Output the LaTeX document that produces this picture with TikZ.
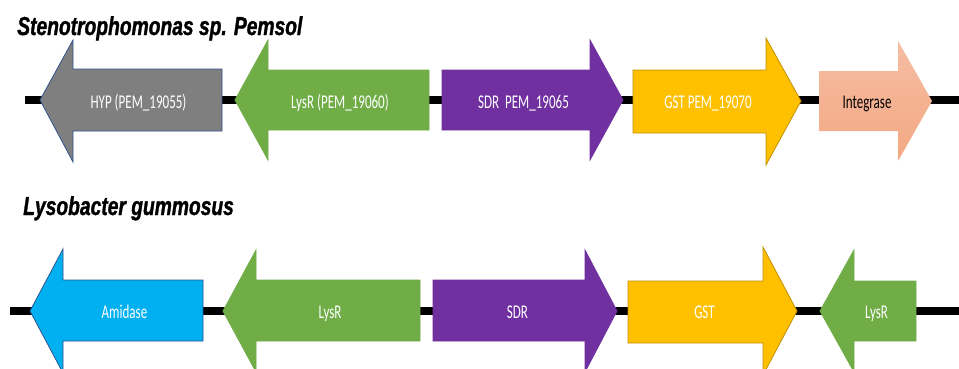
\documentclass[tikz,border=0pt]{standalone}
\usepackage{fontspec}
\newfontfamily\titelfont[FakeStretch=0.74,FakeBold=1.2]{Liberation Sans}
\newfontfamily\genfont[FakeStretch=0.67]{Carlito}

\definecolor{hypgrau}{HTML}{7F7F7F}
\definecolor{randblau}{HTML}{2F528F}
\definecolor{lysgruen}{HTML}{70AD47}
\definecolor{sdrlila}{HTML}{7030A0}
\definecolor{gstgold}{HTML}{FFC000}
\definecolor{gstrand}{HTML}{BF9000}
\definecolor{amiblau}{HTML}{00B0F0}
\definecolor{intoben}{HTML}{F5BDA2}
\definecolor{intunten}{HTML}{F4A884}

\begin{document}
\begin{tikzpicture}[x=0.75pt,y=-0.75pt,
    strang/.style={line width=6pt,black},
    gen/.style={line width=0.6pt,line join=miter},
    titel/.style={anchor=base west,inner sep=0pt,
        font=\titelfont\bfseries\itshape\fontsize{19.5}{23}\selectfont},
    genname/.style={anchor=base,inner sep=0pt,white,
        font=\genfont\fontsize{14.6}{17}\selectfont}]
        \useasboundingbox (0,0) rectangle (959,368);

        % =========================================================
        % SKALIERUNG: 1 Einheit = 1 Pixel des Bildes (959 x 368)
        % =========================================================

        % ---------------------------------------------------------
        % Erste Reihe: Stenotrophomonas sp. Pemsol
        % Strang bei y = 100
        % ---------------------------------------------------------

        \node[titel] (titelA) at (17,35) {Stenotrophomonas sp. Pemsol};

        % DNA-Strang
        \draw[strang] (25,100) -- (959,100);

        % HYP (nach links)
        \draw[gen,fill=hypgrau,draw=randblau]
        (40,100) -- (73,40) -- (73,69) -- (222,69) -- (222,131)
        -- (73,131) -- (73,162) -- cycle;
        \node[genname] (hyp) at (138.5,108.5) {HYP (PEM\_19055)};

        % LysR (nach links)
        \draw[gen,fill=lysgruen,draw=lysgruen]
        (235,100) -- (268,40) -- (268,70) -- (429,70) -- (429,130)
        -- (268,130) -- (268,160) -- cycle;
        \node[genname] (lysrA) at (340,108.5) {LysR (PEM\_19060)};

        % SDR (nach rechts)
        \draw[gen,fill=sdrlila,draw=sdrlila]
        (442,70) -- (590,70) -- (590,40) -- (623,100) -- (590,160)
        -- (590,130) -- (442,130) -- cycle;
        \node[genname] (sdrA) at (523.5,108.5) {SDR\ \ PEM\_19065};

        % GST (nach rechts)
        \draw[gen,fill=gstgold,draw=gstrand]
        (633,70) -- (766,70) -- (766,38) -- (801,101) -- (766,165)
        -- (766,133) -- (633,133) -- cycle;
        \node[genname] (gstA) at (708,108.5) {GST PEM\_19070};

        % Integrase (nach rechts, Verlauf)
        \shade[top color=intoben,bottom color=intunten]
        (819,71) -- (898,71) -- (898,41) -- (932,101) -- (898,161)
        -- (898,131) -- (819,131) -- cycle;
        \node[genname,black] (integrase) at (867,108.5) {Integrase};

        % ---------------------------------------------------------
        % Zweite Reihe: Lysobacter gummosus
        % Strang bei y = 311
        % ---------------------------------------------------------

        \node[titel] (titelB) at (23,215) {Lysobacter gummosus};

        \draw[strang] (10,311) -- (959,311);

        % Amidase (nach links)
        \draw[gen,fill=amiblau,draw=randblau]
        (30,311) -- (63,249) -- (63,280) -- (203,280) -- (203,341)
        -- (63,341) -- (63,373) -- cycle;
        \node[genname] (amidase) at (124.5,318) {Amidase};

        % LysR (nach links)
        \draw[gen,fill=lysgruen,draw=lysgruen]
        (223,311) -- (256,250) -- (256,280) -- (420,280) -- (420,341)
        -- (256,341) -- (256,372) -- cycle;
        \node[genname] (lysrB) at (330,318) {LysR};

        % SDR (nach rechts)
        \draw[gen,fill=sdrlila,draw=sdrlila]
        (433,280) -- (585,280) -- (585,250) -- (617,311) -- (585,372)
        -- (585,341) -- (433,341) -- cycle;
        \node[genname] (sdrB) at (517.5,318) {SDR};

        % GST (nach rechts)
        \draw[gen,fill=gstgold,draw=gstrand]
        (628,281) -- (763,281) -- (763,247) -- (797,311) -- (763,375)
        -- (763,343) -- (628,343) -- cycle;
        \node[genname] (gstB) at (704.5,318) {GST};

        % LysR (nach links, kurz)
        \draw[gen,fill=lysgruen,draw=lysgruen]
        (820,311) -- (854,250) -- (854,281) -- (916,281) -- (916,341)
        -- (854,341) -- (854,372) -- cycle;
        \node[genname] (lysrC) at (876.5,318) {LysR};

    \end{tikzpicture}
\end{document}
